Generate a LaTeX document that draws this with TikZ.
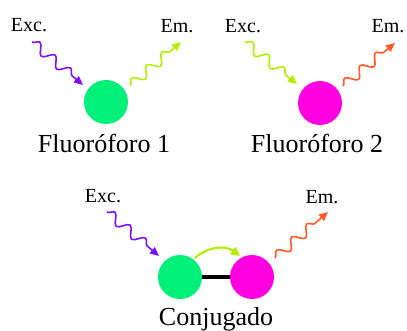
\documentclass[tikz,border=0pt]{standalone}
\usepackage{fontspec}
\setmainfont{Liberation Serif}
\usetikzlibrary{decorations.pathmorphing,arrows.meta}
\definecolor{fgreen}{HTML}{00F07A}
\definecolor{fmag}{HTML}{FF00E0}
\definecolor{fpurple}{HTML}{7F10FF}
\definecolor{fchart}{HTML}{B0F000}
\definecolor{forange}{HTML}{FF5A28}
\tikzset{
  small/.style={font=\fontsize{20}{24}\selectfont, anchor=base, inner sep=0pt},
  big/.style={font=\fontsize{26}{30}\selectfont, anchor=base, inner sep=0pt},
  ball/.style={circle, minimum size=44pt, inner sep=0pt},
  wave/.style={line width=1.6pt, line join=round,
    decorate, decoration={snake, segment length=20pt, amplitude=5pt, pre length=0pt, post length=8pt},
    -{Triangle[length=9pt,width=8pt]}},
}
\begin{document}
\begin{tikzpicture}[x=1pt,y=-1pt]
\useasboundingbox (0,0) rectangle (407,331);
% Fluoroforo 1
\node[small] (exc1) at (29,32) {Exc.};
\node[small] (em1) at (177,33) {Em.};
\node[ball, fill=fgreen] (c1) at (106,102) {};
\node[big] (t1) at (104,153) {Fluoróforo 1};
\coordinate (a1s) at (32,42);
\coordinate (a1e) at (83,85);
\coordinate (b1s) at (130,86);
\coordinate (b1e) at (181,42);
\draw[wave, fpurple] (a1s) -- (a1e);
\draw[wave, fchart] (b1s) -- (b1e);
% Fluoroforo 2
\node[small] (exc2) at (243,33) {Exc.};
\node[small] (em2) at (388,33) {Em.};
\node[ball, fill=fmag] (c2) at (320,103) {};
\node[big] (t2) at (317,153) {Fluoróforo 2};
\coordinate (a2s) at (245,42);
\coordinate (a2e) at (297,84);
\coordinate (b2s) at (343,86);
\coordinate (b2e) at (395,43);
\draw[wave, fchart] (a2s) -- (a2e);
\draw[wave, forange] (b2s) -- (b2e);
% Conjugado
\node[small] (exc3) at (103,203) {Exc.};
\node[small] (em3) at (322,204) {Em.};
\node[ball, fill=fgreen] (c3) at (180,277) {};
\node[ball, fill=fmag] (c4) at (252,277) {};
\node[big] (t3) at (216,325) {Conjugado};
\draw[line width=4pt] (c3.east) -- (c4.west);
\coordinate (ca) at (195,258);
\coordinate (cb) at (240,256);
\draw[fchart, line width=2.2pt, -{Triangle[length=9pt,width=9pt]}] (ca) to[bend left=40] (cb);
\coordinate (a3s) at (107,212);
\coordinate (a3e) at (159,256);
\coordinate (b3s) at (275,258);
\coordinate (b3e) at (328,212);
\draw[wave, fpurple] (a3s) -- (a3e);
\draw[wave, forange] (b3s) -- (b3e);
\end{tikzpicture}
\end{document}
